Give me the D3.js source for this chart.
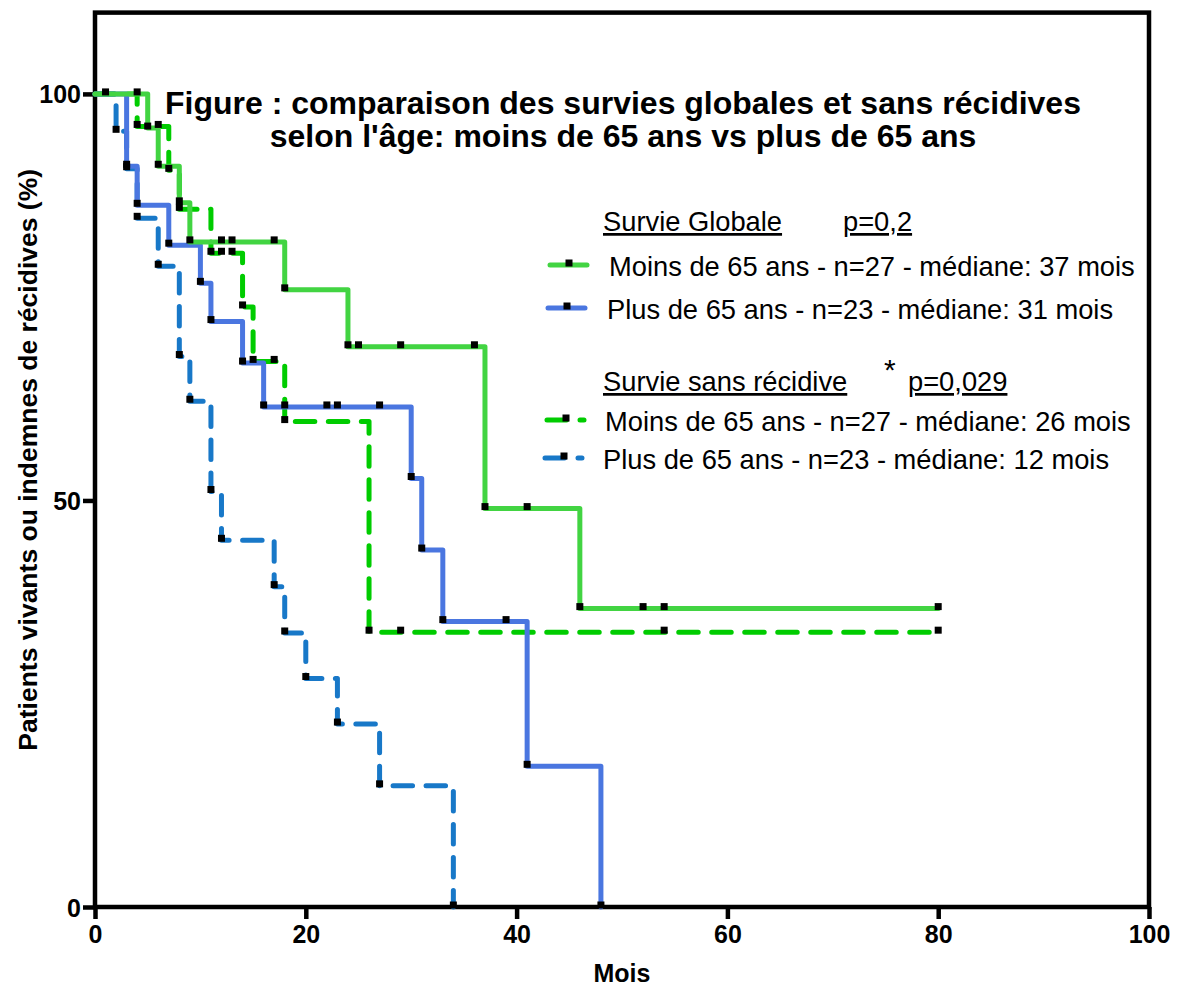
<!DOCTYPE html>
<html>
<head>
<meta charset="utf-8">
<script src="https://cdn.jsdelivr.net/npm/d3@7/dist/d3.min.js"></script>
<style>
  html, body { margin: 0; padding: 0; background: #fff; }
  svg { display: block; font-family: "Liberation Sans", Arial, sans-serif; }
</style>
</head>
<body>
<svg id="chart" width="1177" height="988"></svg>
<script>
// Kaplan-Meier curves: step times (months) and survival (%) after each step
const osYoungTimes = [0, 5, 6, 8, 9, 18, 24, 37, 46];
const osYoungSurv  = [100, 95.8, 91.1, 86.6, 81.8, 75.9, 68.9, 49.0, 36.7];
const osYoungEnd = 80;
const osYoungCensor = [4, 12, 13, 17, 25, 29, 36, 41, 52, 54, 80];

const osOldTimes = [0, 3, 4, 7, 10, 11, 14, 16, 30, 31, 33, 41, 48];
const osOldSurv  = [100, 91.1, 86.3, 81.4, 76.7, 72.0, 66.9, 61.5, 52.7, 43.9, 35.1, 17.3, 0];
const osOldEnd = 48;
const osOldCensor = [18, 22, 23, 27, 39];

const dfsYoungTimes = [0, 4, 7, 8, 11, 14, 15, 18, 26];
const dfsYoungSurv  = [100, 96.0, 90.6, 85.8, 80.4, 73.8, 67.1, 59.7, 33.8];
const dfsYoungEnd = 80;
const dfsYoungCensor = [1, 6, 12, 13, 17, 29, 54, 80];

const dfsOldTimes = [0, 2, 3, 4, 6, 8, 9, 11, 12, 17, 18, 20, 23, 27, 34];
const dfsOldSurv  = [100, 95.4, 90.8, 84.7, 78.8, 67.7, 62.2, 51.1, 45.1, 39.4, 33.7, 28.1, 22.5, 14.9, 0];
const dfsOldEnd = 34;
const dfsOldCensor = [];

const xTicks = [0, 20, 40, 60, 80, 100];
const yTicks = [0, 50, 100];

const titleLines = [
  "Figure : comparaison des survies globales et sans récidives",
  "selon l'âge: moins de 65 ans vs plus de 65 ans"
];
const legendLabels = [
  "Moins de 65 ans - n=27 - médiane: 37 mois",
  "Plus de 65 ans - n=23 - médiane: 31 mois",
  "Moins de 65 ans - n=27 - médiane: 26 mois",
  "Plus de 65 ans - n=23 - médiane: 12 mois"
];

const COL = {
  osYoung: "#42d442",
  osOld: "#4a76e0",
  dfsYoung: "#00cc00",
  dfsOld: "#1878c8"
};
const DASH = "19.5,13.5";

const svg = d3.select("#chart");
const x = d3.scaleLinear().domain([0, 100]).range([95, 1149]);
const y = d3.scaleLinear().domain([0, 110]).range([907, 12.6]);

// frame
svg.append("rect")
  .attr("x", x(0)).attr("y", y(110))
  .attr("width", x(100) - x(0)).attr("height", y(0) - y(110))
  .attr("fill", "none").attr("stroke", "#000").attr("stroke-width", 4.5);

// axes
const xAxis = svg.append("g").attr("transform", `translate(0,${y(0)})`)
  .call(d3.axisBottom(x).tickValues(xTicks).tickSize(12).tickPadding(5).tickFormat(d3.format("d")));
const yAxis = svg.append("g").attr("transform", `translate(${x(0)},0)`)
  .call(d3.axisLeft(y).tickValues(yTicks).tickSize(12).tickPadding(2).tickFormat(d3.format("d")));
[xAxis, yAxis].forEach(g => {
  g.select(".domain").remove();
  g.selectAll(".tick line").attr("stroke", "#000").attr("stroke-width", 4.5);
  g.selectAll(".tick text")
    .attr("fill", "#000")
    .style("font-family", "'Liberation Sans', Arial, sans-serif")
    .style("font-size", "25px").style("font-weight", "bold");
});
xAxis.selectAll(".tick text").attr("dy", "0.75em");
yAxis.selectAll(".tick text").attr("dy", "0.36em");

// axis titles
svg.append("text")
  .attr("x", (x(0) + x(100)) / 2).attr("y", 982)
  .attr("text-anchor", "middle")
  .style("font-size", "25px").style("font-weight", "bold")
  .text("Mois");
svg.append("text")
  .attr("transform", `translate(37,${y(55)}) rotate(-90)`)
  .attr("text-anchor", "middle")
  .style("font-size", "26.5px").style("font-weight", "bold")
  .text("Patients vivants ou indemnes de récidives (%)");

// curves
const line = d3.line().x(d => x(d[0])).y(d => y(d[1])).curve(d3.curveStepAfter);
function curvePoints(times, surv, end) {
  const pts = times.map((t, i) => [t, surv[i]]);
  if (end > times[times.length - 1]) pts.push([end, surv[surv.length - 1]]);
  return pts;
}
function survAt(times, surv, t) {
  const i = d3.bisectRight(times, t) - 1;
  return surv[Math.max(0, i)];
}

const series = [
  { times: dfsOldTimes, surv: dfsOldSurv, end: dfsOldEnd, censor: dfsOldCensor, color: COL.dfsOld, dash: DASH },
  { times: dfsYoungTimes, surv: dfsYoungSurv, end: dfsYoungEnd, censor: dfsYoungCensor, color: COL.dfsYoung, dash: DASH },
  { times: osOldTimes, surv: osOldSurv, end: osOldEnd, censor: osOldCensor, color: COL.osOld, dash: null },
  { times: osYoungTimes, surv: osYoungSurv, end: osYoungEnd, censor: osYoungCensor, color: COL.osYoung, dash: null }
];

series.forEach(s => {
  svg.append("path")
    .datum(curvePoints(s.times, s.surv, s.end))
    .attr("d", line)
    .attr("fill", "none")
    .attr("stroke", s.color)
    .attr("stroke-width", 5)
    .attr("stroke-linejoin", "round")
    .attr("stroke-linecap", "round")
    .attr("stroke-dasharray", s.dash);
});

// symbols at every event and censored observation
const MS = 7, MOFF = -2;
series.forEach(s => {
  const pts = s.times.slice(1).map((t, i) => [t, s.surv[i + 1]])
    .concat(s.censor.map(t => [t, survAt(s.times, s.surv, t)]));
  svg.append("g").selectAll("rect").data(pts).join("rect")
    .attr("x", d => x(d[0]) - MS / 2)
    .attr("y", d => y(d[1]) - MS / 2 + MOFF)
    .attr("width", MS).attr("height", MS)
    .attr("fill", "#000");
});

// title
svg.append("g").selectAll("text").data(titleLines).join("text")
  .attr("x", 623).attr("y", (d, i) => 114 + i * 33)
  .attr("text-anchor", "middle")
  .style("font-size", "32px").style("font-weight", "bold")
  .text(d => d);

// legend
const legend = svg.append("g").style("font-size", "27.3px");
function header(xp, yp, txt) {
  legend.append("text").attr("x", xp).attr("y", yp)
    .style("text-decoration", "underline").text(txt);
}
header(603, 231, "Survie Globale");
header(843, 231, "p=0,2");
header(603, 391, "Survie sans récidive");
legend.append("text").attr("x", 884).attr("y", 380).style("font-size", "30px").text("*");
header(908, 391, "p=0,029");

const legendRows = [
  { label: legendLabels[0], color: COL.osYoung, dash: null, lx: 550, ly: 265, tx: 609 },
  { label: legendLabels[1], color: COL.osOld, dash: null, lx: 548, ly: 308, tx: 607 },
  { label: legendLabels[2], color: COL.dfsYoung, dash: DASH, lx: 547, ly: 420, tx: 605 },
  { label: legendLabels[3], color: COL.dfsOld, dash: DASH, lx: 545, ly: 458, tx: 603 }
];
legendRows.forEach(r => {
  legend.append("line")
    .attr("x1", r.lx).attr("x2", r.lx + 37).attr("y1", r.ly).attr("y2", r.ly)
    .attr("stroke", r.color).attr("stroke-width", 5)
    .attr("stroke-linecap", "round").attr("stroke-dasharray", r.dash);
  legend.append("rect")
    .attr("x", r.lx + 19 - MS / 2).attr("y", r.ly - MS / 2 + MOFF)
    .attr("width", MS).attr("height", MS).attr("fill", "#000");
  legend.append("text").attr("x", r.tx).attr("y", r.ly + 11).text(r.label);
});
</script>
</body>
</html>
